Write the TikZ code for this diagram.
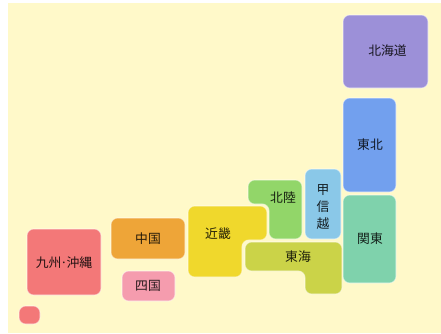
\documentclass[tikz,border=0pt]{standalone}
\usepackage{fontspec}
\newfontfamily\cjk{Noto Sans CJK JP}
\definecolor{bgc}{HTML}{FFF9C9}
\definecolor{kyushu}{HTML}{F37878}
\definecolor{chugoku}{HTML}{EEA538}
\definecolor{shikoku}{HTML}{F59CAE}
\definecolor{kinki}{HTML}{F0D82C}
\definecolor{tokai}{HTML}{CBD348}
\definecolor{hokuriku}{HTML}{92D669}
\definecolor{koshin}{HTML}{8AC8E8}
\definecolor{kanto}{HTML}{7FD2AC}
\definecolor{tohoku}{HTML}{72A0EE}
\definecolor{hokkaido}{HTML}{9C90D8}
\tikzset{
  region/.style={draw=white,draw opacity=0.45,line width=0.8pt,rounded corners=5pt},
  lab/.style={font=\cjk\fontsize{9.6}{11}\selectfont,text=black,text opacity=0.85,inner sep=0pt},
}
\begin{document}
\begin{tikzpicture}[x=0.75pt,y=-0.75pt]
\useasboundingbox (0,0) rectangle (441,333);
\fill[white] (0,0) rectangle (441,333);
\fill[bgc] (8,3) rectangle (441,333);
\path[region,fill=hokkaido] (343,15) rectangle (428,88);
\path[region,fill=tohoku] (343,98) rectangle (396,192);
\path[region,fill=kanto] (343,195) rectangle (396,283);
\path[region,fill=koshin] (305,169) rectangle (341,239);
\path[region,fill=hokuriku] (248,180) -- (302,180) -- (302,239) -- (269,239) -- (269,204) -- (248,204) -- cycle;
\path[region,fill=kinki] (188,206) -- (267,206) -- (267,240) -- (242,240) -- (242,277) -- (188,277) -- cycle;
\path[region,fill=tokai] (245,242) -- (342,242) -- (342,294) -- (305,294) -- (305,271) -- (245,271) -- cycle;
\path[region,fill=chugoku] (111,218) rectangle (185,259);
\path[region,fill=shikoku] (122,271) rectangle (175,301);
\path[region,fill=kyushu] (27,229) rectangle (101,295);
\path[region,fill=kyushu] (19,306) rectangle (40,324);
\node[lab] (nhokkaido) at (387.5,50.5) {北海道};
\node[lab] (ntohoku) at (370,145) {東北};
\node[lab] (nkanto) at (370,238.5) {関東};
\node[lab] (nko) at (323,190) {甲};
\node[lab] (nshin) at (323,207) {信};
\node[lab] (netsu) at (323,224) {越};
\node[lab] (nhokuriku) at (283,198) {北陸};
\node[lab] (ntokai) at (298,257) {東海};
\node[lab] (nkinki) at (218,233.5) {近畿};
\node[lab] (nchugoku) at (148,239) {中国};
\node[lab] (nshikoku) at (148,286) {四国};
\node[lab] (nkyushu) at (64,262.5) {九州\kern-0.8pt·\kern-0.8pt沖縄};
\end{tikzpicture}
\end{document}
